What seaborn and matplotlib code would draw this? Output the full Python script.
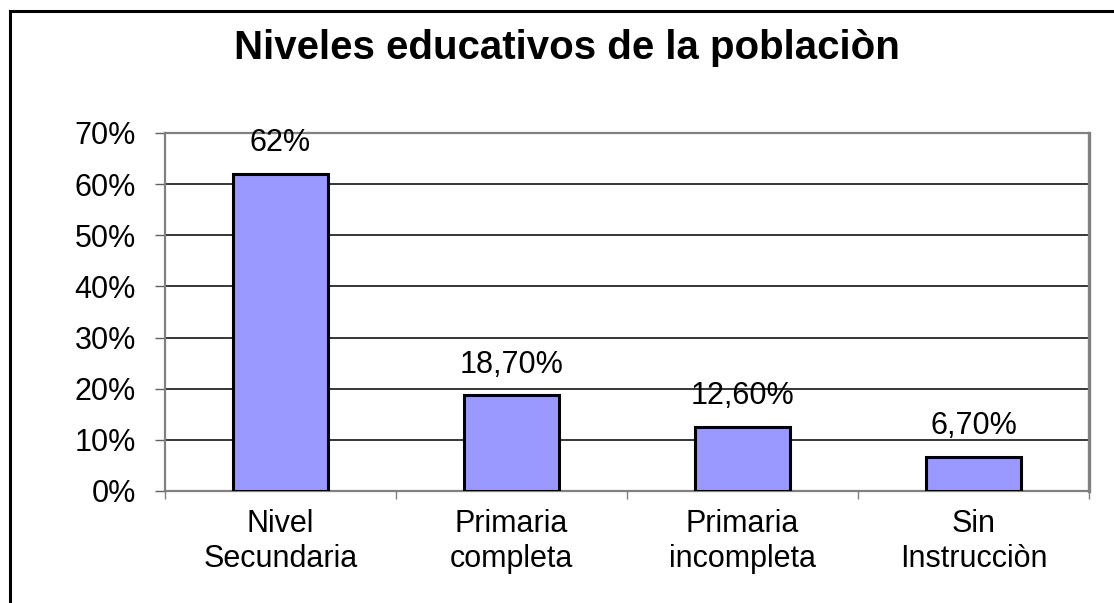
import matplotlib
matplotlib.use('Agg')
import matplotlib.pyplot as plt
import matplotlib.patches as patches
from matplotlib.ticker import FixedLocator, PercentFormatter
import seaborn as sns

# chart data
categories = ['Nivel\nSecundaria', 'Primaria\ncompleta', 'Primaria\nincompleta', 'Sin\nInstrucciòn']
values = [0.62, 0.187, 0.126, 0.067]
value_labels = ['62%', '18,70%', '12,60%', '6,70%']
y_ticks = [0.0, 0.1, 0.2, 0.3, 0.4, 0.5, 0.6, 0.7]

sns.set_theme(style='white')
plt.rcParams['font.family'] = ['Liberation Sans', 'DejaVu Sans']
plt.rcParams['text.color'] = 'black'
plt.rcParams['xtick.labelcolor'] = 'black'
plt.rcParams['ytick.labelcolor'] = 'black'

fig = plt.figure(figsize=(11.14, 6.03), dpi=100)
ax = fig.add_axes([165 / 1114, 1 - 491 / 603, (1089 - 165) / 1114, (491 - 133) / 603])

sns.barplot(x=categories, y=values, color='#9999FF', saturation=1,
            edgecolor='black', linewidth=2.2, width=0.415, ax=ax, zorder=3)

ax.set_xlim(-0.5, 3.5)
ax.set_ylim(0, 0.7)
ax.set_xlabel('')
ax.set_ylabel('')

# gridlines
ax.set_yticks(y_ticks)
ax.yaxis.set_major_formatter(PercentFormatter(1.0, decimals=0))
ax.grid(axis='y', color='black', linewidth=1.1, zorder=0)
ax.set_axisbelow(True)
ax.tick_params(axis='y', direction='out', length=7, width=1, color='#606060',
               labelsize=22, labelcolor='black', pad=14, left=True)

# category labels between boundary ticks
ax.xaxis.set_minor_locator(FixedLocator([-0.5, 0.5, 1.5, 2.5, 3.5]))
ax.tick_params(axis='x', which='major', length=0, labelsize=22,
               labelcolor='black', pad=13)
ax.tick_params(axis='x', which='minor', direction='out', length=6, width=1,
               color='#808080', bottom=True)
for lbl in ax.get_xticklabels():
    lbl.set_linespacing(1.2)

for side, lw in [('left', 1.6), ('bottom', 1.6), ('top', 1.6), ('right', 2.4)]:
    ax.spines[side].set_visible(True)
    ax.spines[side].set_color('#808080')
    ax.spines[side].set_linewidth(lw)

for i, (v, txt) in enumerate(zip(values, value_labels)):
    ax.annotate(txt, (i, v), xytext=(0, 22), textcoords='offset points',
                ha='center', va='center', fontsize=22, color='black')

fig.text(567 / 1114, 1 - 48 / 603, 'Niveles educativos de la poblaciòn',
         ha='center', va='center', fontsize=29, fontweight='bold', color='black')

# outer chart border
fig.patches.append(patches.Rectangle((10 / 1114, -0.05), 1.2, 1.05 - 11 / 603,
                                     transform=fig.transFigure, fill=False,
                                     edgecolor='black', linewidth=2.2))

fig.savefig('out.png', dpi=100)
